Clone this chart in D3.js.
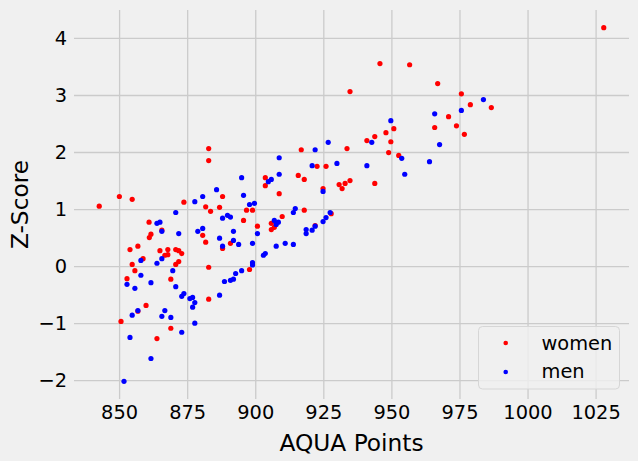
<!DOCTYPE html>
<html>
<head>
<meta charset="utf-8">
<script src="https://cdn.jsdelivr.net/npm/d3@7"></script>
<style>
  body { margin: 0; background: #f0f0f0; }
  svg { display: block; font-family: "DejaVu Sans", sans-serif; }
</style>
</head>
<body>
<div class="chart"></div>
<script>
var width = 638;
var height = 461;

// women: [AQUA points, z-score]
var women = [
  [882.9, 2.06], [882.9, 1.85], [850.1, 1.22], [854.8, 1.17], [842.7, 1.05],
  [873.8, 1.12], [881.8, 1.04], [883.6, 0.96], [861.0, 0.77], [865.7, 0.63],
  [880.7, 0.54], [881.8, 0.42], [861.7, 0.56], [861.1, 0.50], [856.9, 0.35],
  [854.0, 0.29], [865.0, 0.27], [867.9, 0.29], [870.8, 0.29], [871.9, 0.27],
  [873.0, 0.22], [867.9, 0.20], [866.8, 0.19], [858.8, 0.13], [871.9, 0.08],
  [870.8, 0.03], [854.8, 0.03], [882.9, -0.02], [855.8, -0.08], [852.9, -0.22],
  [869.0, -0.23], [882.9, -0.58], [859.9, -0.69], [856.9, -0.79], [850.7, -0.97],
  [869.0, -1.09], [863.9, -1.27],
  [916.9, 2.04], [922.7, 1.75], [926.0, 1.75], [903.7, 1.55], [903.7, 1.41],
  [915.8, 1.59], [918.0, 1.52], [924.9, 1.36], [908.8, 1.27], [888.0, 1.22],
  [886.9, 1.03], [896.8, 0.98], [899.0, 0.98], [918.0, 0.98], [895.7, 0.80],
  [909.9, 0.87], [905.9, 0.75], [907.0, 0.68], [905.9, 0.64], [922.0, 0.71],
  [900.8, 0.70], [890.9, 0.40], [888.0, 0.31], [897.9, -0.06], [927.9, 0.92],
  [945.8, 3.55], [956.7, 3.53], [967.0, 3.20], [934.8, 3.06], [975.7, 3.02],
  [979.0, 2.83], [986.7, 2.78], [971.0, 2.62], [965.9, 2.43], [973.9, 2.46],
  [976.8, 2.31], [948.0, 2.34], [950.9, 2.41], [943.9, 2.27], [941.0, 2.20],
  [949.8, 2.18], [933.7, 2.06], [949.0, 1.99], [952.7, 1.94], [930.8, 1.43],
  [933.0, 1.45], [931.9, 1.36], [934.8, 1.50], [943.9, 1.45], [1028.0, 4.18]
];

// men: [AQUA points, z-score]
var men = [
  [880.7, 1.22], [877.8, 1.13], [870.8, 0.94], [863.9, 0.75], [865.0, 0.77],
  [865.7, 0.61], [871.9, 0.57], [878.9, 0.61], [880.7, 0.66], [865.7, 0.13],
  [858.0, 0.10], [863.9, 0.05], [869.7, -0.08], [858.0, -0.16], [852.9, -0.32],
  [861.7, -0.29], [855.8, -0.39], [870.8, -0.36], [873.8, -0.48], [873.0, -0.53],
  [877.0, -0.55], [876.0, -0.57], [877.8, -0.64], [877.0, -0.72], [856.9, -0.78],
  [866.8, -0.78], [854.8, -0.86], [865.7, -0.88], [869.0, -0.90], [877.8, -1.00],
  [873.0, -1.16], [854.0, -1.25], [861.7, -1.62], [851.8, -2.02],
  [922.0, 2.04], [926.8, 2.17], [908.8, 1.90], [920.9, 1.76], [895.0, 1.55],
  [904.8, 1.48], [905.9, 1.52], [908.8, 1.61], [924.9, 1.31], [885.8, 1.34],
  [895.7, 1.24], [897.9, 1.08], [899.7, 1.10], [914.7, 1.01], [914.0, 0.94],
  [927.5, 0.94], [888.0, 0.84], [889.8, 0.89], [890.9, 0.86], [907.0, 0.80],
  [908.5, 0.77], [907.7, 0.73], [926.0, 0.85], [924.9, 0.78], [922.0, 0.70],
  [920.9, 0.63], [918.7, 0.64], [918.7, 0.57], [900.8, 0.57], [892.0, 0.61],
  [886.9, 0.49], [892.0, 0.45], [893.9, 0.38], [899.0, 0.40], [888.0, 0.35],
  [907.7, 0.35], [911.0, 0.40], [914.0, 0.38], [903.0, 0.19], [903.7, 0.22],
  [899.0, 0.06], [899.0, 0.02], [895.0, -0.08], [892.8, -0.13], [888.7, -0.27],
  [890.9, -0.25], [892.0, -0.23], [886.9, -0.51],
  [983.8, 2.92], [975.7, 2.73], [965.9, 2.67], [949.8, 2.55], [942.8, 2.17],
  [967.7, 2.13], [953.8, 1.89], [964.0, 1.83], [930.0, 1.80], [941.0, 1.76],
  [954.9, 1.61]
];

var xTicks = [850, 875, 900, 925, 950, 975, 1000, 1025];
var yTicks = [-2, -1, 0, 1, 2, 3, 4];
var legendLabels = ['women', 'men'];
var colors = ['#ff0000', '#0000ff'];

var mLeft = 74, mRight = 629, mTop = 10, mBottom = 399;

var all = women.concat(men);
var xExt = d3.extent(all, function(d){ return d[0]; });
var yExt = d3.extent(all, function(d){ return d[1]; });
var xPad = (xExt[1] - xExt[0]) * 0.05;
var yPad = (yExt[1] - yExt[0]) * 0.05;

var x = d3.scaleLinear()
  .domain([xExt[0] - xPad, xExt[1] + xPad])
  .range([mLeft, mRight]);
var y = d3.scaleLinear()
  .domain([yExt[0] - yPad, yExt[1] + yPad])
  .range([mBottom, mTop]);

var svg = d3.select('.chart')
  .append('svg')
  .attr('width', width)
  .attr('height', height);

svg.append('rect')
  .attr('width', width)
  .attr('height', height)
  .attr('fill', '#f0f0f0');

// grid lines via axes
var xAxis = svg.append('g')
  .attr('transform', 'translate(0,' + mBottom + ')')
  .call(d3.axisBottom(x).tickValues(xTicks).tickSize(-(mBottom - mTop)).tickPadding(6).tickFormat(d3.format('d')));
var yAxis = svg.append('g')
  .attr('transform', 'translate(' + mLeft + ',0)')
  .call(d3.axisLeft(y).tickValues(yTicks).tickSize(-(mRight - mLeft)).tickPadding(7)
    .tickFormat(function(d){ return d < 0 ? '\u2212' + Math.abs(d) : d; }));

[xAxis, yAxis].forEach(function(a){
  a.select('.domain').remove();
  a.selectAll('.tick line').attr('stroke', '#cbcbcb').attr('stroke-width', 1.3);
  a.selectAll('.tick text')
    .attr('fill', '#000')
    .style('font-size', '19.4px')
    .style('font-family', '"DejaVu Sans", sans-serif');
});

var series = [women, men];
series.forEach(function(s, i){
  svg.append('g').selectAll('circle')
    .data(s)
    .enter().append('circle')
    .attr('cx', function(d){ return x(d[0]); })
    .attr('cy', function(d){ return y(d[1]); })
    .attr('r', 2.6)
    .attr('fill', colors[i]);
});

// axis labels
svg.append('text')
  .attr('x', (mLeft + mRight) / 2)
  .attr('y', 451)
  .attr('text-anchor', 'middle')
  .style('font-size', '23.3px')
  .text('AQUA Points');

svg.append('text')
  .attr('transform', 'translate(28,' + ((mTop + mBottom) / 2) + ') rotate(-90)')
  .attr('text-anchor', 'middle')
  .style('font-size', '23.3px')
  .text('Z-Score');

// legend
var legend = svg.append('g');
legend.append('rect')
  .attr('x', 478.5)
  .attr('y', 326.5)
  .attr('width', 141)
  .attr('height', 62.5)
  .attr('rx', 4)
  .attr('fill', '#f0f0f0')
  .attr('fill-opacity', 0.8)
  .attr('stroke', '#d6d6d6')
  .attr('stroke-width', 1);

legendLabels.forEach(function(l, i){
  legend.append('circle')
    .attr('cx', 505.7)
    .attr('cy', 343 + i * 29)
    .attr('r', 2.3)
    .attr('fill', colors[i]);
  legend.append('text')
    .attr('x', 541.5)
    .attr('y', 349.5 + i * 28)
    .style('font-size', '19.4px')
    .text(l);
});
</script>
</body>
</html>
